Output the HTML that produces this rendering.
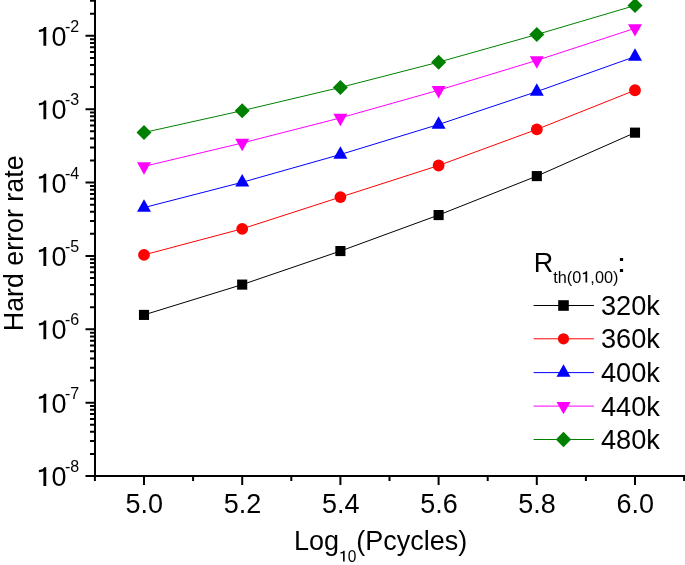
<!DOCTYPE html>
<html><head><meta charset="utf-8"><style>
html,body{margin:0;padding:0;background:#fff;}
svg{display:block;will-change:transform;}
text{font-family:"Liberation Sans",sans-serif;fill:#000;}
</style></head><body>
<svg width="685" height="565" viewBox="0 0 685 565">
<path d="M95.0,0V477.0" stroke="#000" stroke-width="2" fill="none"/>
<path d="M94.0,476.0H685" stroke="#000" stroke-width="2" fill="none"/>
<path d="M85.5,476.00H95.0M90,453.92H95.0M90,441.00H95.0M90,431.83H95.0M90,424.72H95.0M90,418.91H95.0M90,414.00H95.0M90,409.75H95.0M90,406.00H95.0M85.5,402.64H95.0M90,380.56H95.0M90,367.64H95.0M90,358.47H95.0M90,351.36H95.0M90,345.55H95.0M90,340.64H95.0M90,336.39H95.0M90,332.64H95.0M85.5,329.28H95.0M90,307.20H95.0M90,294.28H95.0M90,285.11H95.0M90,278.00H95.0M90,272.19H95.0M90,267.28H95.0M90,263.03H95.0M90,259.28H95.0M85.5,255.92H95.0M90,233.84H95.0M90,220.92H95.0M90,211.75H95.0M90,204.64H95.0M90,198.83H95.0M90,193.92H95.0M90,189.67H95.0M90,185.92H95.0M85.5,182.56H95.0M90,160.48H95.0M90,147.56H95.0M90,138.39H95.0M90,131.28H95.0M90,125.47H95.0M90,120.56H95.0M90,116.31H95.0M90,112.56H95.0M85.5,109.20H95.0M90,87.12H95.0M90,74.20H95.0M90,65.03H95.0M90,57.92H95.0M90,52.11H95.0M90,47.20H95.0M90,42.95H95.0M90,39.20H95.0M85.5,35.84H95.0M90,13.76H95.0M90,0.84H95.0M144.00,476.0V485M242.20,476.0V485M340.40,476.0V485M438.60,476.0V485M536.80,476.0V485M635.00,476.0V485M94.90,476.0V481M193.10,476.0V481M291.30,476.0V481M389.50,476.0V481M487.70,476.0V481M585.90,476.0V481M684.10,476.0V481" stroke="#000" stroke-width="2" fill="none"/>
<polyline points="144.00,314.90 242.20,284.60 340.40,251.05 438.60,215.05 536.80,176.10 635.00,132.65" fill="none" stroke="#000000" stroke-width="1"/>
<polyline points="144.00,254.90 242.20,228.80 340.40,197.10 438.60,165.50 536.80,129.40 635.00,90.25" fill="none" stroke="#ff0000" stroke-width="1"/>
<polyline points="144.00,207.60 242.20,182.30 340.40,154.50 438.60,124.50 536.80,91.60 635.00,56.60" fill="none" stroke="#0000ff" stroke-width="1"/>
<polyline points="144.00,166.40 242.20,143.00 340.40,117.90 438.60,90.20 536.80,60.40 635.00,28.30" fill="none" stroke="#ff00ff" stroke-width="1"/>
<polyline points="144.00,132.50 242.20,110.65 340.40,87.45 438.60,62.15 536.80,34.50 635.00,5.50" fill="none" stroke="#008000" stroke-width="1"/>
<rect x="138.95" y="309.85" width="10.10" height="10.10" fill="#000000"/>
<rect x="237.15" y="279.55" width="10.10" height="10.10" fill="#000000"/>
<rect x="335.35" y="246.00" width="10.10" height="10.10" fill="#000000"/>
<rect x="433.55" y="210.00" width="10.10" height="10.10" fill="#000000"/>
<rect x="531.75" y="171.05" width="10.10" height="10.10" fill="#000000"/>
<rect x="629.95" y="127.60" width="10.10" height="10.10" fill="#000000"/>
<circle cx="144.00" cy="254.90" r="5.90" fill="#ff0000"/>
<circle cx="242.20" cy="228.80" r="5.90" fill="#ff0000"/>
<circle cx="340.40" cy="197.10" r="5.90" fill="#ff0000"/>
<circle cx="438.60" cy="165.50" r="5.90" fill="#ff0000"/>
<circle cx="536.80" cy="129.40" r="5.90" fill="#ff0000"/>
<circle cx="635.00" cy="90.25" r="5.90" fill="#ff0000"/>
<polygon points="144.00,199.33 151.00,211.73 137.00,211.73" fill="#0000ff"/>
<polygon points="242.20,174.03 249.20,186.43 235.20,186.43" fill="#0000ff"/>
<polygon points="340.40,146.23 347.40,158.63 333.40,158.63" fill="#0000ff"/>
<polygon points="438.60,116.23 445.60,128.63 431.60,128.63" fill="#0000ff"/>
<polygon points="536.80,83.33 543.80,95.73 529.80,95.73" fill="#0000ff"/>
<polygon points="635.00,48.33 642.00,60.73 628.00,60.73" fill="#0000ff"/>
<polygon points="144.00,174.67 151.00,162.27 137.00,162.27" fill="#ff00ff"/>
<polygon points="242.20,151.27 249.20,138.87 235.20,138.87" fill="#ff00ff"/>
<polygon points="340.40,126.17 347.40,113.77 333.40,113.77" fill="#ff00ff"/>
<polygon points="438.60,98.47 445.60,86.07 431.60,86.07" fill="#ff00ff"/>
<polygon points="536.80,68.67 543.80,56.27 529.80,56.27" fill="#ff00ff"/>
<polygon points="635.00,36.57 642.00,24.17 628.00,24.17" fill="#ff00ff"/>
<polygon points="144.00,125.00 151.50,132.50 144.00,140.00 136.50,132.50" fill="#008000"/>
<polygon points="242.20,103.15 249.70,110.65 242.20,118.15 234.70,110.65" fill="#008000"/>
<polygon points="340.40,79.95 347.90,87.45 340.40,94.95 332.90,87.45" fill="#008000"/>
<polygon points="438.60,54.65 446.10,62.15 438.60,69.65 431.10,62.15" fill="#008000"/>
<polygon points="536.80,27.00 544.30,34.50 536.80,42.00 529.30,34.50" fill="#008000"/>
<polygon points="635.00,-2.00 642.50,5.50 635.00,13.00 627.50,5.50" fill="#008000"/>
<path d="M0.362,-0.673L0.362,0L0.257,0L0.257,-0.531C0.2,-0.51 0.14,-0.495 0.089,-0.492L0.089,-0.571C0.16,-0.58 0.21,-0.595 0.235,-0.61C0.26,-0.63 0.275,-0.655 0.283,-0.673Z" transform="translate(36.47,486.00) scale(27,27.945)"/>
<text transform="translate(51.48,486.00) scale(1,1.035)" font-size="27">0</text>
<text transform="translate(65.00,472.20) scale(1,1.0)" font-size="16">-8</text>
<path d="M0.362,-0.673L0.362,0L0.257,0L0.257,-0.531C0.2,-0.51 0.14,-0.495 0.089,-0.492L0.089,-0.571C0.16,-0.58 0.21,-0.595 0.235,-0.61C0.26,-0.63 0.275,-0.655 0.283,-0.673Z" transform="translate(36.47,412.64) scale(27,27.945)"/>
<text transform="translate(51.48,412.64) scale(1,1.035)" font-size="27">0</text>
<text transform="translate(65.00,398.84) scale(1,1.0)" font-size="16">-7</text>
<path d="M0.362,-0.673L0.362,0L0.257,0L0.257,-0.531C0.2,-0.51 0.14,-0.495 0.089,-0.492L0.089,-0.571C0.16,-0.58 0.21,-0.595 0.235,-0.61C0.26,-0.63 0.275,-0.655 0.283,-0.673Z" transform="translate(36.47,339.28) scale(27,27.945)"/>
<text transform="translate(51.48,339.28) scale(1,1.035)" font-size="27">0</text>
<text transform="translate(65.00,325.48) scale(1,1.0)" font-size="16">-6</text>
<path d="M0.362,-0.673L0.362,0L0.257,0L0.257,-0.531C0.2,-0.51 0.14,-0.495 0.089,-0.492L0.089,-0.571C0.16,-0.58 0.21,-0.595 0.235,-0.61C0.26,-0.63 0.275,-0.655 0.283,-0.673Z" transform="translate(36.47,265.92) scale(27,27.945)"/>
<text transform="translate(51.48,265.92) scale(1,1.035)" font-size="27">0</text>
<text transform="translate(65.00,252.12) scale(1,1.0)" font-size="16">-5</text>
<path d="M0.362,-0.673L0.362,0L0.257,0L0.257,-0.531C0.2,-0.51 0.14,-0.495 0.089,-0.492L0.089,-0.571C0.16,-0.58 0.21,-0.595 0.235,-0.61C0.26,-0.63 0.275,-0.655 0.283,-0.673Z" transform="translate(36.47,192.56) scale(27,27.945)"/>
<text transform="translate(51.48,192.56) scale(1,1.035)" font-size="27">0</text>
<text transform="translate(65.00,178.76) scale(1,1.0)" font-size="16">-4</text>
<path d="M0.362,-0.673L0.362,0L0.257,0L0.257,-0.531C0.2,-0.51 0.14,-0.495 0.089,-0.492L0.089,-0.571C0.16,-0.58 0.21,-0.595 0.235,-0.61C0.26,-0.63 0.275,-0.655 0.283,-0.673Z" transform="translate(36.47,119.20) scale(27,27.945)"/>
<text transform="translate(51.48,119.20) scale(1,1.035)" font-size="27">0</text>
<text transform="translate(65.00,105.40) scale(1,1.0)" font-size="16">-3</text>
<path d="M0.362,-0.673L0.362,0L0.257,0L0.257,-0.531C0.2,-0.51 0.14,-0.495 0.089,-0.492L0.089,-0.571C0.16,-0.58 0.21,-0.595 0.235,-0.61C0.26,-0.63 0.275,-0.655 0.283,-0.673Z" transform="translate(36.47,45.84) scale(27,27.945)"/>
<text transform="translate(51.48,45.84) scale(1,1.035)" font-size="27">0</text>
<text transform="translate(65.00,32.04) scale(1,1.0)" font-size="16">-2</text>
<text transform="translate(144.30,513.00) scale(1,1.035)" font-size="27" text-anchor="middle">5.0</text>
<text transform="translate(242.50,513.00) scale(1,1.035)" font-size="27" text-anchor="middle">5.2</text>
<text transform="translate(340.70,513.00) scale(1,1.035)" font-size="27" text-anchor="middle">5.4</text>
<text transform="translate(438.90,513.00) scale(1,1.035)" font-size="27" text-anchor="middle">5.6</text>
<text transform="translate(537.10,513.00) scale(1,1.035)" font-size="27" text-anchor="middle">5.8</text>
<text transform="translate(635.30,513.00) scale(1,1.035)" font-size="27" text-anchor="middle">6.0</text>
<text transform="translate(22.8,243.3) rotate(-90) scale(1,1.035)" text-anchor="middle" font-size="26.8">Hard error rate</text>
<text transform="translate(294.00,550.00) scale(1,1.035)" font-size="27">Log</text>
<path d="M0.362,-0.673L0.362,0L0.257,0L0.257,-0.531C0.2,-0.51 0.14,-0.495 0.089,-0.492L0.089,-0.571C0.16,-0.58 0.21,-0.595 0.235,-0.61C0.26,-0.63 0.275,-0.655 0.283,-0.673Z" transform="translate(339.05,561.50) scale(15.5,16.043)"/>
<text transform="translate(347.67,561.50) scale(1,1.035)" font-size="15.5">0</text>
<text transform="translate(356.29,550.00) scale(1,1.035)" font-size="27">(Pcycles)</text>
<text transform="translate(533.70,272.20) scale(1,1.035)" font-size="27">R</text>
<text transform="translate(553.20,282.60) scale(1,1.035)" font-size="16.3">th(0</text>
<path d="M0.362,-0.673L0.362,0L0.257,0L0.257,-0.531C0.2,-0.51 0.14,-0.495 0.089,-0.492L0.089,-0.571C0.16,-0.58 0.21,-0.595 0.235,-0.61C0.26,-0.63 0.275,-0.655 0.283,-0.673Z" transform="translate(581.29,282.60) scale(16.3,16.870)"/>
<text transform="translate(590.35,282.60) scale(1,1.035)" font-size="16.3">,00)</text>
<path d="M619.9,257.9h3.2v3.1h-3.2zM619.9,269h3.2v3h-3.2z"/>
<path d="M533.6,305.5H593.9" stroke="#000000" stroke-width="1"/>
<rect x="558.20" y="300.20" width="10.60" height="10.60" fill="#000000"/>
<text transform="translate(601.00,315.10) scale(1,1.035)" font-size="27.2">320k</text>
<path d="M533.6,338.8H593.9" stroke="#ff0000" stroke-width="1"/>
<circle cx="563.50" cy="338.80" r="5.60" fill="#ff0000"/>
<text transform="translate(601.00,348.40) scale(1,1.035)" font-size="27.2">360k</text>
<path d="M533.6,372.6H593.9" stroke="#0000ff" stroke-width="1"/>
<polygon points="563.50,364.33 570.50,376.73 556.50,376.73" fill="#0000ff"/>
<text transform="translate(601.00,382.20) scale(1,1.035)" font-size="27.2">400k</text>
<path d="M533.6,406.1H593.9" stroke="#ff00ff" stroke-width="1"/>
<polygon points="563.50,414.37 570.50,401.97 556.50,401.97" fill="#ff00ff"/>
<text transform="translate(601.00,415.70) scale(1,1.035)" font-size="27.2">440k</text>
<path d="M533.6,439.5H593.9" stroke="#008000" stroke-width="1"/>
<polygon points="563.50,431.80 571.20,439.50 563.50,447.20 555.80,439.50" fill="#008000"/>
<text transform="translate(601.00,449.10) scale(1,1.035)" font-size="27.2">480k</text>
</svg>
</body></html>
